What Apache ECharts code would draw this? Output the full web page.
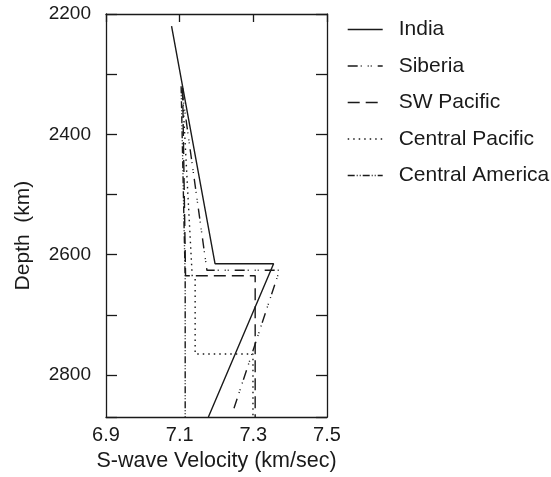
<!DOCTYPE html>
<html>
<head>
<meta charset="utf-8">
<script src="https://cdn.jsdelivr.net/npm/echarts@6/dist/echarts.min.js"></script>
<style>html,body{margin:0;padding:0;background:#fff;}#c{width:551px;height:477px;}</style>
</head>
<body>
<div id="c"></div>
<script>
// Region names (legend order)
const regions = ['India', 'Siberia', 'SW Pacific', 'Central Pacific', 'Central America'];
// S-wave velocity (km/s) and depth (km) vertices per region
const indiaV = [7.078, 7.196, 7.355, 7.178];
const indiaD = [2220, 2615, 2615, 2870];
const siberiaV = [7.106, 7.174, 7.371, 7.246];
const siberiaD = [2326, 2626, 2626, 2858];
const swPacificV = [7.108, 7.116, 7.305, 7.305];
const swPacificD = [2323, 2635, 2635, 2870];
const centralPacificV = [7.107, 7.134, 7.142, 7.142, 7.299, 7.299];
const centralPacificD = [2323, 2635, 2640, 2765, 2765, 2870];
const centralAmericaV = [7.104, 7.115, 7.115];
const centralAmericaD = [2320, 2640, 2870];
// Axis ticks
const xTicks = [6.9, 7.1, 7.3, 7.5];
const yLabelTicks = [2200, 2400, 2600, 2800];

const zip = (v, d) => v.map((x, i) => [x, d[i]]);
const font = 'Liberation Sans, Arial, Helvetica, sans-serif';
const ink = '#1a1a1a';

const styles = [
  { type: 'solid' },
  { type: [10, 3, 1, 6, 1, 2, 1, 6] },
  { type: [12, 6] },
  { type: [1.5, 4] },
  { type: [7, 2, 1, 2, 1, 2] }
];
const dataSets = [
  zip(indiaV, indiaD),
  zip(siberiaV, siberiaD),
  zip(swPacificV, swPacificD),
  zip(centralPacificV, centralPacificD),
  zip(centralAmericaV, centralAmericaD)
];

const chart = echarts.init(document.getElementById('c'), null, { renderer: 'canvas' });
const common = { min: xTicks[0], max: xTicks[xTicks.length - 1], interval: 0.2 };
const yCommon = { min: 2200, max: 2870, interval: 100, inverse: true };
chart.setOption({
  animation: false,
  backgroundColor: '#fff',
  grid: { left: 106, top: 14, right: 224, bottom: 59, containLabel: false },
  legend: {
    orient: 'vertical', left: 347, top: 19, padding: 0,
    itemWidth: 35, itemHeight: 14, itemGap: 15.5,
    data: regions,
    itemStyle: { opacity: 0 },
    lineStyle: { width: 1.4, color: ink },
    textStyle: { fontFamily: font, fontSize: 21, color: ink, padding: [0, 0, 0, 11] }
  },
  xAxis: [
    Object.assign({
      type: 'value', position: 'bottom',
      axisLine: { show: true, lineStyle: { color: ink, width: 1.3 } },
      axisTick: { show: false },
      splitLine: { show: false },
      axisLabel: { fontFamily: font, fontSize: 20, color: ink, margin: 8,
        formatter: v => xTicks.some(t => Math.abs(t - v) < 1e-6) ? v.toFixed(1) : '' },
      name: 'S-wave Velocity (km/sec)', nameLocation: 'middle', nameGap: 30,
      nameTextStyle: { fontFamily: font, fontSize: 21.5, color: ink }
    }, common),
    Object.assign({
      type: 'value', position: 'top',
      axisLine: { show: true, lineStyle: { color: ink, width: 1.3 } },
      axisTick: { show: true, inside: true, length: 8, lineStyle: { color: ink, width: 1.3 } },
      splitLine: { show: false },
      axisLabel: { show: false }
    }, common)
  ],
  yAxis: [
    Object.assign({
      type: 'value', position: 'left',
      axisLine: { show: true, lineStyle: { color: ink, width: 1.3 } },
      axisTick: { show: true, inside: true, length: 11, lineStyle: { color: ink, width: 1.3 } },
      splitLine: { show: false },
      axisLabel: { fontFamily: font, fontSize: 19, color: ink, margin: 15,
        formatter: v => yLabelTicks.indexOf(v) >= 0 ? String(v) : '' },
      name: 'Depth  (km)', nameLocation: 'middle', nameGap: 72, nameRotate: 90,
      nameTextStyle: { fontFamily: font, fontSize: 21, color: ink, padding: [0, 40, 0, 0] }
    }, yCommon),
    Object.assign({
      type: 'value', position: 'right',
      axisLine: { show: true, lineStyle: { color: ink, width: 1.3 } },
      axisTick: { show: true, inside: true, length: 11, lineStyle: { color: ink, width: 1.3 } },
      splitLine: { show: false },
      axisLabel: { show: false }
    }, yCommon)
  ],
  series: regions.map((name, i) => ({
    name: name, type: 'line', xAxisIndex: 0, yAxisIndex: 0,
    data: dataSets[i], symbol: 'none', showSymbol: false,
    lineStyle: Object.assign({ color: ink, width: 1.4 }, styles[i]),
    itemStyle: { color: ink },
    silent: true
  }))
});
</script>
</body>
</html>
